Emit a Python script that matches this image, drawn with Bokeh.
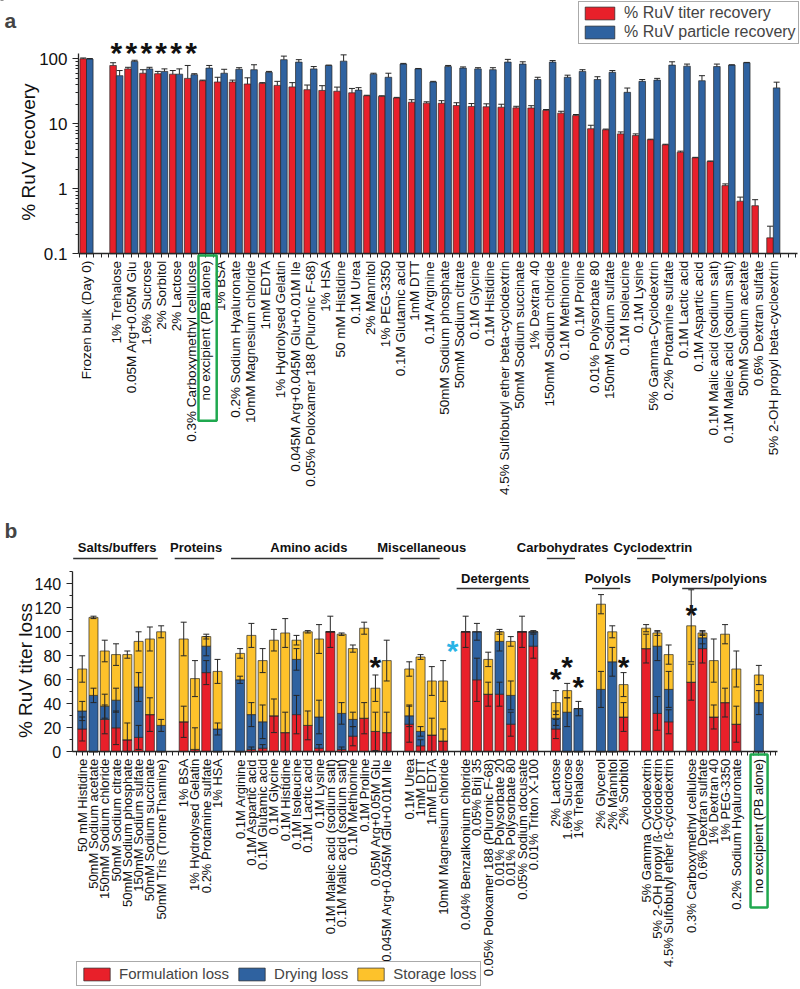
import math
import numpy as np
from bokeh.plotting import figure
from bokeh.models import (ColumnDataSource, FixedTicker, Whisker, TeeHead, Legend, LegendItem,
                          Label, LabelSet, BoxAnnotation, Range1d)
from bokeh.layouts import column
from bokeh.embed import file_html
from bokeh.resources import INLINE
from bokeh.core.properties import value

FONT = "Liberation Sans"
RED = "#E8202A"
BLUE = "#2F62A0"
YELLOW = "#FDC22B"
EDGE = "#262626"
GREEN = "#1FA84F"
CYAN = "#2AB4E6"
NAN = float("nan")

# ---------------- panel a data ----------------
a_categories = [
    "Frozen bulk (Day 0)", "1% Trehalose", "0.05M Arg+0.05M Glu", "1.6% Sucrose", "2% Sorbitol",
    "2% Lactose", "0.3% Carboxymethyl cellulose", "no excipient (PB alone)", "1% BSA",
    "0.2% Sodium Hyaluronate", "10mM Magnesium chloride", "1mM EDTA", "1% Hydrolysed Gelatin",
    "0.045M Arg+0.045M Glu+0.01M Ile", "0.05% Poloxamer 188 (Pluronic F-68)", "1% HSA",
    "50 mM Histidine", "0.1M Urea", "2% Mannitol", "1% PEG-3350", "0.1M Glutamic acid", "1mM DTT",
    "0.1M Arginine", "50mM Sodium phosphate", "50mM Sodium citrate", "0.1M Glycine",
    "0.1M Histidine", "4.5% Sulfobutyl ether beta-cyclodextrin", "50mM Sodium succinate",
    "1% Dextran 40", "150mM Sodium chloride", "0.1M Methionine", "0.1M Proline",
    "0.01% Polysorbate 80", "150mM Sodium sulfate", "0.1M Isoleucine", "0.1M Lysine",
    "5% Gamma-Cyclodextrin", "0.2% Protamine sulfate", "0.1M Lactic acid", "0.1M Aspartic acid",
    "0.1M Malic acid (sodium salt)", "0.1M Maleic acid (sodium salt)", "50mM Sodium acetate",
    "0.6% Dextran sulfate", "5% 2-OH propyl beta-cycloextrin"]
a_titer = [100, 79, 70, 60, 59, 58, 50, 46, 44, 44, 41, 42, 39, 37, 33.5, 32.6, 31.7, 30, 27, 26.5,
           25, 21.5, 20.8, 20.7, 19.1, 18.5, 18.3, 18, 17.6, 17.5, 16.1, 14.6, 13.4, 8.4, 8.1, 7.0,
           6.6, 5.7, 4.75, 3.65, 3.0, 2.63, 1.12, 0.645, 0.55, 0.176]
a_titer_err = [3, 8, 4, 8, 5, 8, 29, 1, 8, 3, 10, 1, 6, 6, 6, 6, 5, 5, 0.5, 0.5, 0.5, 2, 1, 2, 2,
               2, 2, 2, 1, 1.5, 0.5, 1, 0.5, 1.1, 0.2, 0.5, 0.4, 0.1, 0.1, 0.15, 0.05, 0.05, 0.07,
               0.1, 0.13, 0.09]
a_particle = [99, 55, 91, 70, 64, 58, 57, 72, 60, 69, 68, 62, 97, 89, 70, 79, 92, 33, 58, 52, 83,
              70, 44, 76, 72, 70, 68, 89, 83, 48, 89, 52, 64, 48, 62, 30.5, 45, 47, 80, 77, 46, 76,
              80, 87, NAN, 35.7]
a_particle_err = [2, 11, 4, 4, 6, 12, 2, 7, 9, 4, 13, 2, 13, 8, 6, 1, 23, 3, 2, 8, 2, 1, 1, 3, 3,
                  3, 5, 9, 7, 4, 5, 4, 4, 5, 4, 5, 3, 3, 10, 6, 9, 7, 1, 1, NAN, 8]
a_star_categories = ["1% Trehalose", "0.05M Arg+0.05M Glu", "1.6% Sucrose", "2% Sorbitol",
                     "2% Lactose", "0.3% Carboxymethyl cellulose"]
a_star_level = 125
a_yticks = [0.1, 1, 10, 100]
a_legend_labels = ["% RuV titer recovery", "% RuV particle recovery"]

# ---------------- panel b data ----------------
b_groups = ["Salts/buffers", "Proteins", "Amino acids", "Miscellaneous", "Detergents",
            "Carbohydrates", "Polyols", "Cyclodextrin", "Polymers/polyions", ""]
b_group_sizes = [8, 4, 14, 4, 7, 3, 3, 3, 5, 1]
b_group_row = [1, 1, 1, 1, 2, 1, 2, 1, 2, 0]
b_categories = [
    "50 mM Histidine", "50mM Sodium acetate", "150mM Sodium chloride", "50mM Sodium citrate",
    "50mM Sodium phosphate", "150mM Sodium sulfate", "50mM Sodium succinate",
    "50mM Tris (TromeThamine)",
    "1% BSA", "1% Hydrolysed Gelatin", "0.2% Protamine sulfate", "1% HSA",
    "0.1M Arginine", "0.1M Aspartic acid", "0.1M Glutamic acid", "0.1M Glycine", "0.1M Histidine",
    "0.1M Isoleucine", "0.1M Lactic acid", "0.1M Lysine", "0.1M Maleic acid (sodium salt)",
    "0.1M Malic acid (sodium salt)", "0.1M Methionine", "0.1M Proline", "0.05M Arg+0.05M Glu",
    "0.045M Arg+0.045M Glu+0.01M Ile",
    "0.1M Urea", "1mM DTT", "1mM EDTA", "10mM Magnesium chloride",
    "0.04% Benzalkonium chloride", "0.05% Brij 35", "0.05% Poloxamer 188 (Pluronic F-68)",
    "0.01% Polysorbate 20", "0.01% Polysorbate 80", "0.05% Sodium docusate", "0.01% Triton X-100",
    "2% Lactose", "1.6% Sucrose", "1% Trehalose",
    "2% Glycerol", "2% Mannitol", "2% Sorbitol",
    "5% Gamma Cyclodextrin", "5% 2-OH propyl ß-Cyclodextrin", "4.5% Sulfobutyl ether ß-cyclodextrin",
    "0.3% Carboxymethyl cellulose", "0.6% Dextran sulfate", "1% Dextran 40", "1% PEG-3350",
    "0.2% Sodium Hyaluronate",
    "no excipient (PB alone)"]
b_formulation = [19, 0, 27, 20, 10, 12, 31, 0,
                 25, 2, 66, 0,
                 0, 2, 3, 30, 16, 31, 22, 3, 100, 2, 13, 28, 17, 16,
                 23, 5, 14, 9,
                 100, 60, 48, 48, 23, 100, 88,
                 19, 0, 0,
                 0, 0, 29,
                 86, 32, 25,
                 58, 86, 29, 41, 23,
                 0]
b_drying = [15, 47, 11, 23, 0, 42, 0, 22,
            0, 0, 22, 19,
            60, 29, 22, 0, 0, 46, 0, 26, 0, 30, 14, 0, 0, 0,
            7, 12, 0, 0,
            0, 40, 0, 44, 24, 0, 12,
            9, 33, 36,
            52, 75, 0,
            0, 56, 27,
            0, 9, 0, 0, 0,
            41]
b_storage = [35, 65, 46, 38, 71, 38, 63, 78,
             69, 59, 8, 48,
             22, 66, 51, 63, 83, 16, 78, 65, 0, 66, 59, 75, 36, 60,
             39, 62, 45, 50,
             0, 0, 29, 8, 45, 0, 0,
             13, 18, 0,
             71, 25, 27,
             17, 11, 29,
             47, 4, 47, 57, 46,
             23]
b_formulation_err = [10, 0, 12, 14, 14, 10, 14, 0,
                     13, 18, 10, 0,
                     0, 2, 3, 14, 17, 16, 12, 3, 13, 2, 8, 13, 16, 17,
                     15, 5, 14, 10,
                     13, 18, 10, 10, 10, 13, 10,
                     8, 0, 0,
                     0, 0, 12,
                     12, 14, 10,
                     15, 12, 10, 12, 15,
                     0]
b_drying_err = [8, 6, 10, 10, 0, 12, 0, 5,
                0, 0, 8, 5,
                3, 10, 14, 0, 0, 9, 0, 14, 0, 9, 6, 0, 0, 0,
                9, 4, 0, 0,
                0, 7, 0, 8, 12, 0, 1,
                6, 12, 6,
                15, 12, 0,
                0, 12, 15,
                0, 5, 0, 0, 0,
                10]
b_storage_err = [11, 1, 9, 9, 3, 8, 10, 5,
                 14, 15, 2, 10,
                 4, 10, 10, 9, 12, 4, 1, 12, 0, 1, 3, 5, 11, 17,
                 6, 2, 12, 17,
                 0, 0, 6, 2, 4, 0, 0,
                 10, 6, 0,
                 8, 5, 10,
                 3, 2, 8,
                 30, 2, 18, 8, 15,
                 8]
b_star_categories = ["0.05M Arg+0.05M Glu", "10mM Magnesium chloride", "2% Lactose",
                     "1.6% Sucrose", "1% Trehalose", "2% Sorbitol", "0.3% Carboxymethyl cellulose"]
b_star_levels = [71, 84, 61, 71, 54, 71, 114]
b_star_colors = ["#111111", CYAN, "#111111", "#111111", "#111111", "#111111", "#111111"]
b_star_shift = [0, 0.85, 0, 0, 0, 0, 0]
b_yticks = list(range(0, 141, 20))
b_legend_labels = ["Formulation loss", "Drying loss", "Storage loss"]


def style_axis(ax, size):
    ax.axis_line_color = EDGE
    ax.axis_line_width = 1.3
    ax.major_tick_line_color = EDGE
    ax.minor_tick_line_color = EDGE
    ax.major_label_text_font = FONT
    ax.major_label_text_font_size = size
    ax.major_label_text_color = "#111111"


def clean(p):
    p.outline_line_color = None
    p.xgrid.visible = False
    p.ygrid.visible = False
    p.background_fill_color = None
    p.border_fill_color = None
    p.min_border = 0


# ======================= PANEL A =======================
# the frame fills the whole figure; axes are drawn at fixed positions inside it
a_slots = [0] + list(range(2, 1 + len(a_categories)))
A_X0, A_X1 = -0.536, 47.62          # extent of the x axis line
A_Y0, A_Y1 = 0.1, 120.6             # extent of the y axis line
src_a = ColumnDataSource(dict(
    xr=[s - 0.22 for s in a_slots], xb=[s + 0.22 for s in a_slots],
    titer=a_titer, particle=a_particle,
    titer_hi=[v + e for v, e in zip(a_titer, a_titer_err)],
    particle_hi=[v + e for v, e in zip(a_particle, a_particle_err)],
))

pa = figure(width=800, height=495, title=None, toolbar_location=None, output_backend="svg",
            y_axis_type="log", x_range=Range1d(-5.760, 47.82), y_range=Range1d(1.914e-5, 788.9))
clean(pa)

r_red = pa.vbar(x="xr", top="titer", bottom=A_Y0, width=0.44, source=src_a,
                fill_color=RED, line_color=EDGE, line_width=0.7)
r_blue = pa.vbar(x="xb", top="particle", bottom=A_Y0, width=0.44, source=src_a,
                 fill_color=BLUE, line_color=EDGE, line_width=0.7)
for base, lo, hi in (("xr", "titer", "titer_hi"), ("xb", "particle", "particle_hi")):
    pa.add_layout(Whisker(source=src_a, base=base, lower=lo, upper=hi, level="overlay",
                          line_color=EDGE, line_width=1,
                          upper_head=TeeHead(size=6, line_color=EDGE, line_width=1),
                          lower_head=None))

xa = pa.xaxis[0]
n_a = max(a_slots) + 2
xa.ticker = FixedTicker(ticks=list(range(0, n_a)), minor_ticks=[i + 0.5 for i in range(-1, n_a)])
overrides = {s: "" for s in range(0, n_a)}
overrides.update({s: c for s, c in zip(a_slots, a_categories)})
xa.major_label_overrides = overrides
xa.major_label_orientation = math.pi / 2
style_axis(xa, "13.5px")
xa.major_tick_out = 4
xa.major_tick_in = 0
xa.minor_tick_out = 4
xa.minor_tick_in = 0
xa.major_label_standoff = 3
xa.fixed_location = A_Y0
xa.bounds = (A_X0, A_X1)

ya = pa.yaxis[0]
ya.ticker = FixedTicker(ticks=a_yticks,
                        minor_ticks=[k * m for m in (0.1, 1, 10) for k in range(2, 10)])
ya.major_label_overrides = {t: ("%g" % t) for t in a_yticks}
style_axis(ya, "17px")
ya.major_tick_out = 6
ya.major_tick_in = 0
ya.minor_tick_out = 3
ya.minor_tick_in = 0
ya.fixed_location = A_X0
ya.bounds = (A_Y0, A_Y1)

pa.add_layout(Label(x=-3.885, y=3.68, text="% RuV recovery", angle=math.pi / 2,
                    text_font=FONT, text_font_size="19px", text_align="center",
                    text_baseline="middle", text_color="#111111"))

leg_a = Legend(items=[LegendItem(label=lab, renderers=[r]) for lab, r in zip(a_legend_labels, [r_red, r_blue])],
               location=(578, 451), orientation="vertical",
               glyph_width=37, glyph_height=16, label_text_font=FONT, label_text_font_size="16px",
               label_height=17, label_standoff=6, padding=2, spacing=1, margin=0,
               border_line_color="#555555", border_line_width=1.5, background_fill_alpha=1)
pa.add_layout(leg_a)

star_src_a = ColumnDataSource(dict(
    x=[a_slots[a_categories.index(c)] for c in a_star_categories],
    y=[a_star_level] * len(a_star_categories),
    t=["*"] * len(a_star_categories)))
pa.add_layout(LabelSet(source=star_src_a, x="x", y="y", text="t", text_align="center",
                       text_baseline="middle", text_font=value(FONT), text_font_size="30px",
                       text_font_style="bold", text_color="#111111"))

pa.add_layout(Label(x=-5.49, y=388, text="a", text_font=FONT, text_font_size="21px",
                    text_font_style="bold", text_align="left", text_baseline="middle"))

box_slot = a_slots[a_categories.index("no excipient (PB alone)")]
pa.add_layout(BoxAnnotation(left=box_slot - 0.5, right=box_slot + 0.72, top=0.094, bottom=2.7e-4,
                            fill_color=None, fill_alpha=0, line_color=GREEN, line_alpha=1,
                            line_width=2.5))

# ======================= PANEL B =======================
b_slots = []
group_spans = []
s = 0
for n in b_group_sizes:
    group_spans.append((s, s + n - 1))
    b_slots += list(range(s, s + n))
    s += n + 1

B_X0, B_X1 = -0.887, 61.63
B_Y0, B_Y1 = 0, 150
src_b = ColumnDataSource(dict(x=b_slots, F=b_formulation, D=b_drying, S=b_storage))

pb = figure(width=800, height=493, title=None, toolbar_location=None, output_backend="svg",
            x_range=Range1d(-7.245, 63.69), y_range=Range1d(-197.25, 213.58))
clean(pb)

stack_r = pb.vbar_stack(["F", "D", "S"], x="x", width=0.8, source=src_b,
                        fill_color=[RED, BLUE, YELLOW], line_color=EDGE, line_width=0.7)

cum = np.zeros(len(b_slots))
for vals, errs in ((b_formulation, b_formulation_err), (b_drying, b_drying_err),
                   (b_storage, b_storage_err)):
    vals = np.array(vals, dtype=float)
    errs = np.array(errs, dtype=float)
    cum = cum + vals
    keep = (vals > 0) & (errs > 0)
    ws = ColumnDataSource(dict(x=np.array(b_slots)[keep],
                               hi=(cum + errs)[keep],
                               lo=np.maximum(cum - errs, 0)[keep]))
    pb.add_layout(Whisker(source=ws, base="x", lower="lo", upper="hi", level="overlay",
                          line_color=EDGE, line_width=1,
                          upper_head=TeeHead(size=6, line_color=EDGE, line_width=1),
                          lower_head=TeeHead(size=6, line_color=EDGE, line_width=1)))

xb = pb.xaxis[0]
n_b = max(b_slots) + 2
xb.ticker = FixedTicker(ticks=list(range(0, n_b)), minor_ticks=[i + 0.5 for i in range(-1, n_b)])
ov_b = {k: "" for k in range(0, n_b)}
ov_b.update({k: c for k, c in zip(b_slots, b_categories)})
xb.major_label_overrides = ov_b
xb.major_label_orientation = math.pi / 2
style_axis(xb, "13px")
xb.major_tick_out = 4
xb.major_tick_in = 0
xb.minor_tick_out = 4
xb.minor_tick_in = 0
xb.major_label_standoff = 3
xb.fixed_location = B_Y0
xb.bounds = (B_X0, B_X1)

yb = pb.yaxis[0]
yb.ticker = FixedTicker(ticks=b_yticks, minor_ticks=list(range(0, 151, 10)))
style_axis(yb, "16px")
yb.major_tick_out = 6
yb.major_tick_in = 0
yb.minor_tick_out = 3
yb.minor_tick_in = 0
yb.fixed_location = B_X0
yb.bounds = (B_Y0, B_Y1)

pb.add_layout(Label(x=-5.03, y=67.75, text="% RuV titer loss", angle=math.pi / 2,
                    text_font=FONT, text_font_size="19px", text_align="center",
                    text_baseline="middle", text_color="#111111"))

leg_b = Legend(items=[LegendItem(label=lab, renderers=[r]) for lab, r in zip(b_legend_labels, stack_r)],
               location=(76, 2), orientation="horizontal",
               glyph_width=33, glyph_height=16, label_text_font=FONT, label_text_font_size="15px",
               label_height=16, label_standoff=6, padding=3, spacing=6, margin=0,
               border_line_color="#555555", border_line_width=1.5, background_fill_alpha=1)
pb.add_layout(leg_b)

ROW_TEXT = {1: 170.3, 2: 144.4}
ROW_LINE = {1: 161.1, 2: 136.1}
for name, (first, last), row in zip(b_groups, group_spans, b_group_row):
    if not name:
        continue
    pb.add_layout(Label(x=(first + last) / 2 - 0.4, y=ROW_TEXT[row], text=name, text_font=FONT,
                        text_font_size="13px", text_font_style="bold", text_align="center",
                        text_baseline="middle", text_color="#111111"))
    pb.add_layout(BoxAnnotation(left=first - 0.8, right=last - 0.3, bottom=ROW_LINE[row] - 0.6,
                                top=ROW_LINE[row] + 0.6, fill_color="#333333", fill_alpha=1,
                                line_color=None))

star_src_b = ColumnDataSource(dict(
    x=[b_slots[b_categories.index(c)] + d for c, d in zip(b_star_categories, b_star_shift)],
    y=b_star_levels, t=["*"] * len(b_star_levels), c=b_star_colors))
pb.add_layout(LabelSet(source=star_src_b, x="x", y="y", text="t", text_align="center",
                       text_baseline="middle", text_font=value(FONT), text_font_size="30px",
                       text_font_style="bold", text_color="c"))

pb.add_layout(Label(x=-6.89, y=184.4, text="b", text_font=FONT, text_font_size="21px",
                    text_font_style="bold", text_align="left", text_baseline="middle"))

ctrl = b_slots[b_categories.index("no excipient (PB alone)")]
pb.add_layout(BoxAnnotation(left=ctrl - 0.74, right=ctrl + 0.77, top=-2.25, bottom=-129.75,
                            fill_color=None, fill_alpha=0, line_color=GREEN, line_alpha=1,
                            line_width=2.5))

layout = column(pa, pb, spacing=0)
open("out.html", "w").write(file_html(layout, INLINE))
